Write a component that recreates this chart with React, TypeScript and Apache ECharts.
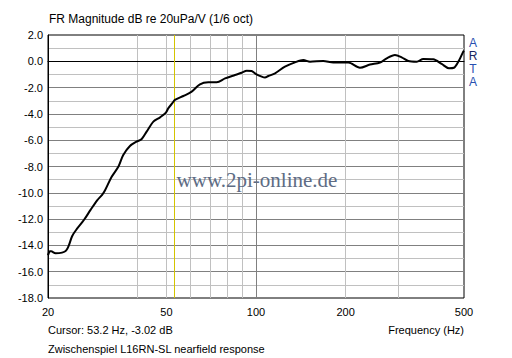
import React, { useEffect, useRef } from "react";
import * as echarts from "echarts";

const freqs = [20, 20.3, 20.5, 21.2, 22.3, 23.0, 23.5, 24.1, 25.0, 26.4, 27.8, 29.3, 30.4, 31.1, 32.7, 34.5, 35.8, 37.7, 39.7, 41.3, 42.9, 45.2, 47.6, 49.8, 50.7, 52.5, 53.4, 57.0, 60.8, 64.8, 69.1, 73.8, 78.7, 85.0, 89.5, 93.1, 96.7, 100, 104.5, 107.2, 110, 115.9, 125.1, 135.2, 144.2, 151.9, 168.3, 181.9, 204.2, 223.5, 241.6, 261, 274.9, 293.1, 308.7, 324.9, 346.8, 364.9, 394.2, 420.6, 445.1, 462.6, 482, 497, 500];
const magnitudes = [-14.75, -14.45, -14.45, -14.6, -14.55, -14.4, -14.0, -13.3, -12.75, -12.07, -11.3, -10.55, -10.15, -9.8, -8.8, -8.0, -7.13, -6.44, -6.11, -5.91, -5.35, -4.59, -4.26, -3.9, -3.58, -3.15, -2.94, -2.64, -2.31, -1.75, -1.6, -1.6, -1.3, -1.04, -0.87, -0.71, -0.74, -0.97, -1.17, -1.24, -1.12, -0.91, -0.41, -0.08, 0.1, -0.03, 0.02, -0.1, -0.1, -0.49, -0.25, -0.1, 0.23, 0.48, 0.3, 0.02, -0.03, 0.17, 0.15, -0.2, -0.53, -0.49, 0.1, 0.73, 0.8];
const xGridValues = [30, 40, 50, 60, 70, 80, 90, 100, 200, 300, 400];
const xLabelValues = [20, 50, 100, 200, 500];
const cursorFreq = 53.2;
const majorFreq = 100;
const titleText = "FR Magnitude dB re 20uPa/V (1/6 oct)";
const cursorText = "Cursor: 53.2 Hz, -3.02 dB";
const captionText = "Zwischenspiel L16RN-SL nearfield response";
const xAxisName = "Frequency (Hz)";
const watermark = "www.2pi-online.de";
const brandLetters = ["A", "R", "T", "A"];

export default function App() {
  const ref = useRef<HTMLDivElement>(null);
  useEffect(() => {
    if (!ref.current) return;
    const chart = echarts.init(ref.current, null, { renderer: "svg" });
    const font = "'Liberation Sans', Arial, sans-serif";
    chart.setOption({
      animation: false,
      backgroundColor: "#ffffff",
      grid: { left: 48, right: 48, top: 35, bottom: 60, show: true, borderColor: "#000", borderWidth: 1, backgroundColor: "transparent" },
      xAxis: {
        type: "log",
        logBase: 10,
        min: 20,
        max: 500,
        axisLine: { show: true, lineStyle: { color: "#000", width: 1 } },
        axisTick: { show: false, customValues: xGridValues },
        axisLabel: { customValues: xLabelValues, color: "#000", fontSize: 11, fontFamily: font, margin: 8, formatter: (v: number) => String(Math.round(v)) },
        splitLine: { show: true, showMinLine: false, showMaxLine: false, lineStyle: { color: "#c0c0c0", width: 1 } },
      },
      yAxis: {
        type: "value",
        min: -18,
        max: 2,
        interval: 2,
        axisLine: { show: true, lineStyle: { color: "#000", width: 1 } },
        axisTick: { show: false },
        axisLabel: { color: "#000", fontSize: 11, fontFamily: font, margin: 5, formatter: (v: number) => v.toFixed(1) },
        splitLine: { show: true, showMinLine: false, showMaxLine: false, lineStyle: { color: "#808080", width: 1 } },
        minorTick: { show: false, splitNumber: 2 },
        minorSplitLine: { show: true, lineStyle: { color: "#c0c0c0", width: 1 } },
      },
      series: [
        {
          type: "line",
          data: freqs.map((f, i) => [f, magnitudes[i]]),
          showSymbol: false,
          smooth: 0.3,
          lineStyle: { color: "#000", width: 2 },
          z: 5,
          markLine: {
            silent: true,
            symbol: "none",
            label: { show: false },
            z: 3,
            data: [
              { xAxis: majorFreq, lineStyle: { color: "#808080", width: 1, type: "solid" } },
              { xAxis: cursorFreq, lineStyle: { color: "#d4c400", width: 1, type: "solid" } },
            ],
          },
        },
      ],
      graphic: [
        { type: "text", left: 49, top: 13, style: { text: titleText, fill: "#000", font: `12px ${font}` } },
        { type: "text", left: 48, top: 324, style: { text: cursorText, fill: "#000", font: `11px ${font}` } },
        { type: "text", left: 48, top: 343, style: { text: captionText, fill: "#000", font: `11px ${font}` } },
        { type: "text", right: 48, top: 324, style: { text: xAxisName, fill: "#000", font: `11px ${font}` } },
        {
          type: "text", x: 257, y: 180, z: 10,
          style: { text: watermark, fill: "#5e6c84", font: "21px 'Liberation Serif', 'Times New Roman', serif", textAlign: "center", textVerticalAlign: "middle" },
        },
        ...brandLetters.map((ch, i) => ({
          type: "text", x: 473, y: 43 + i * 13,
          style: { text: ch, fill: i === 1 ? "#1a2460" : "#2850b0", font: `12px ${font}`, textAlign: "center", textVerticalAlign: "middle" },
        })),
      ],
    });
    return () => chart.dispose();
  }, []);
  return <div ref={ref} style={{ width: 512, height: 358, position: "absolute", left: 0, top: 0 }} />;
}
